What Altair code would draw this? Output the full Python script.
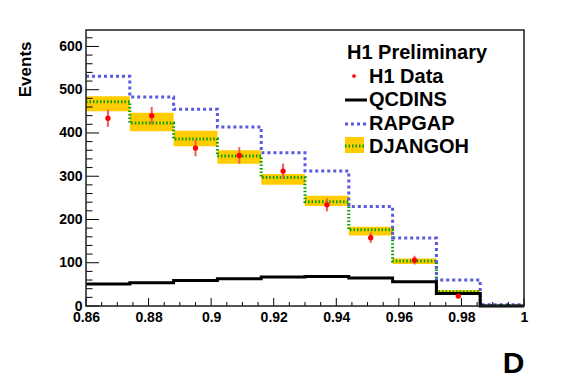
import altair as alt
import pandas as pd

# ---------------- data ----------------
bin_lo = [0.860, 0.874, 0.888, 0.902, 0.916, 0.930, 0.944, 0.958, 0.972, 0.986]
bin_hi = [0.874, 0.888, 0.902, 0.916, 0.930, 0.944, 0.958, 0.972, 0.986, 1.000]

djangoh = [472, 423, 386, 347, 297, 241, 176, 104, 33, 1]
djangoh_lo = [450, 404, 369, 329, 280, 231, 163, 97, 29, 0]
djangoh_hi = [485, 447, 405, 360, 305, 255, 183, 110, 37, 2]
rapgap = [531, 483, 455, 414, 354, 312, 230, 157, 60, 3]
qcdins = [51, 54, 59, 63, 67, 68, 65, 56, 29, 0]

data_x = [0.867, 0.881, 0.895, 0.909, 0.923, 0.937, 0.951, 0.965, 0.979]
data_val = [434, 440, 365, 348, 312, 234, 158, 106, 23]
data_err = [20, 20, 19, 19, 17, 15, 12, 10, 5]

x_major = [0.86, 0.88, 0.90, 0.92, 0.94, 0.96, 0.98, 1.00]
x_minor = [0.865, 0.87, 0.875, 0.885, 0.89, 0.895, 0.905, 0.91, 0.915,
           0.925, 0.93, 0.935, 0.945, 0.95, 0.955, 0.965, 0.97, 0.975,
           0.985, 0.99, 0.995]
y_major = [0, 100, 200, 300, 400, 500, 600]
y_minor = [20, 40, 60, 80, 120, 140, 160, 180, 220, 240, 260, 280,
           320, 340, 360, 380, 420, 440, 460, 480, 520, 540, 560, 580, 620]

legend_header = "H1 Preliminary"
legend_labels = ["H1 Data", "QCDINS", "RAPGAP", "DJANGOH"]

# ---------------- tables ----------------
W, H = 438, 276
FONT = "Liberation Sans"
XD = [0.86, 1.0]
YD = [0, 638]

x_axis = alt.Axis(values=x_major, format=".2~f", ticks=False, domain=False, grid=False,
                  labelFont=FONT, labelFontWeight="bold", labelFontSize=14, labelColor="black",
                  labelPadding=4, labelOverlap=False, labelBound=False, labelFlush=False,
                  title="D", titleFont=FONT, titleFontWeight="bold", titleFontSize=30,
                  titleColor="black", titleAnchor="end", titleAlign="right",
                  titleX=W, titleY=66, titleBaseline="alphabetic")
y_axis = alt.Axis(values=y_major, ticks=False, domain=False, grid=False,
                  labelFont=FONT, labelFontWeight="bold", labelFontSize=14, labelColor="black",
                  labelPadding=4, labelOverlap=False, labelBound=False, labelFlush=False,
                  title="Events", titleFont=FONT, titleFontWeight="bold", titleFontSize=17,
                  titleColor="black", titleAngle=270, titleAlign="right",
                  titleBaseline="alphabetic", titleX=-56, titleY=11)


def xs(field="x"):
    return alt.X(f"{field}:Q", scale=alt.Scale(domain=XD, nice=False, zero=False), axis=x_axis)


def ys(field="y"):
    return alt.Y(f"{field}:Q", scale=alt.Scale(domain=YD, nice=False), axis=y_axis)


def step_df(vals):
    return pd.DataFrame({"x": bin_lo + [bin_hi[-1]], "y": vals + [vals[-1]]})


band_df = pd.DataFrame({"x": bin_lo, "x2": bin_hi, "y": djangoh_lo, "y2": djangoh_hi})
pts_df = pd.DataFrame({"x": data_x, "y": data_val,
                       "lo": [v - e for v, e in zip(data_val, data_err)],
                       "hi": [v + e for v, e in zip(data_val, data_err)]})
one = pd.DataFrame({"a": [0]})

band = alt.Chart(band_df).mark_rect(color="#ffcc00").encode(
    x=xs("x"), x2="x2:Q", y=ys("y"), y2="y2:Q")

dj_line = alt.Chart(step_df(djangoh)).mark_line(
    interpolate="step-after", color="#00a000", strokeWidth=3, strokeDash=[1.5, 2]
).encode(x=xs(), y=ys())

rap_line = alt.Chart(step_df(rapgap)).mark_line(
    interpolate="step-after", color="#5a5ae0", strokeWidth=3, strokeDash=[3, 3]
).encode(x=xs(), y=ys())

qcd_line = alt.Chart(step_df(qcdins)).mark_line(
    interpolate="step-after", color="black", strokeWidth=3
).encode(x=xs(), y=ys())

err = alt.Chart(pts_df).mark_rule(color="#f25a5a", strokeWidth=2).encode(
    x=xs(), y=ys("lo"), y2="hi:Q")
pts = alt.Chart(pts_df).mark_point(filled=True, shape="circle", size=28, color="red", opacity=1).encode(
    x=xs(), y=ys())

# inward ticks (ROOT style)
xmaj = alt.Chart(pd.DataFrame({"t": x_major})).mark_rule(color="black", strokeWidth=1).encode(
    x=xs("t"), y=alt.value(H), y2=alt.value(H - 8))
xmin = alt.Chart(pd.DataFrame({"t": x_minor})).mark_rule(color="black", strokeWidth=1).encode(
    x=xs("t"), y=alt.value(H), y2=alt.value(H - 4))
ymaj = alt.Chart(pd.DataFrame({"t": y_major})).mark_rule(color="black", strokeWidth=1).encode(
    y=ys("t"), x=alt.value(0), x2=alt.value(13))
ymin = alt.Chart(pd.DataFrame({"t": y_minor})).mark_rule(color="black", strokeWidth=1).encode(
    y=ys("t"), x=alt.value(0), x2=alt.value(6.5))

frame = alt.Chart(one).mark_rect(fill=None, stroke="#222222", strokeWidth=1.5).encode(
    x=alt.value(0), x2=alt.value(W), y=alt.value(0), y2=alt.value(H))

# legend
LX_SYM0, LX_SYM1, LX_TXT = 259, 281, 283
ROW = [29, 53, 76, 100, 123]


def ltext(txt, x, y):
    return alt.Chart(one).mark_text(text=txt, align="left", baseline="alphabetic", font=FONT,
                                    fontWeight="bold", fontSize=20, color="black").encode(
        x=alt.value(x), y=alt.value(y))


leg = [
    ltext(legend_header, 261, ROW[0]),
    alt.Chart(one).mark_point(filled=True, shape="circle", size=14, color="red", opacity=1).encode(
        x=alt.value(268), y=alt.value(ROW[1] - 7)),
    ltext(legend_labels[0], LX_TXT, ROW[1]),
    alt.Chart(one).mark_rule(color="black", strokeWidth=3).encode(
        x=alt.value(LX_SYM0), x2=alt.value(LX_SYM1), y=alt.value(ROW[2] - 6)),
    ltext(legend_labels[1], LX_TXT, ROW[2]),
    alt.Chart(one).mark_rule(color="#5a5ae0", strokeWidth=3, strokeDash=[3, 3]).encode(
        x=alt.value(LX_SYM0), x2=alt.value(LX_SYM1), y=alt.value(ROW[3] - 6)),
    ltext(legend_labels[2], LX_TXT, ROW[3]),
    alt.Chart(one).mark_rect(color="#ffcc00").encode(
        x=alt.value(LX_SYM0), x2=alt.value(LX_SYM0 + 19), y=alt.value(ROW[4] - 16), y2=alt.value(ROW[4])),
    alt.Chart(one).mark_rule(color="#00a000", strokeWidth=3, strokeDash=[1.5, 2]).encode(
        x=alt.value(LX_SYM0), x2=alt.value(LX_SYM0 + 19), y=alt.value(ROW[4] - 7)),
    ltext(legend_labels[3], LX_TXT, ROW[4]),
]

chart = alt.layer(
    band, dj_line, rap_line, qcd_line, err, pts, xmaj, xmin, ymaj, ymin, frame, *leg
).properties(
    width=W, height=H,
    autosize=alt.AutoSizeParams(type="none"),
    padding={"left": 78, "top": 22, "right": 35, "bottom": 76},
).configure_view(strokeWidth=0).configure(background="white")

chart.save("out.html", embed_options={"renderer": "svg", "actions": False})
